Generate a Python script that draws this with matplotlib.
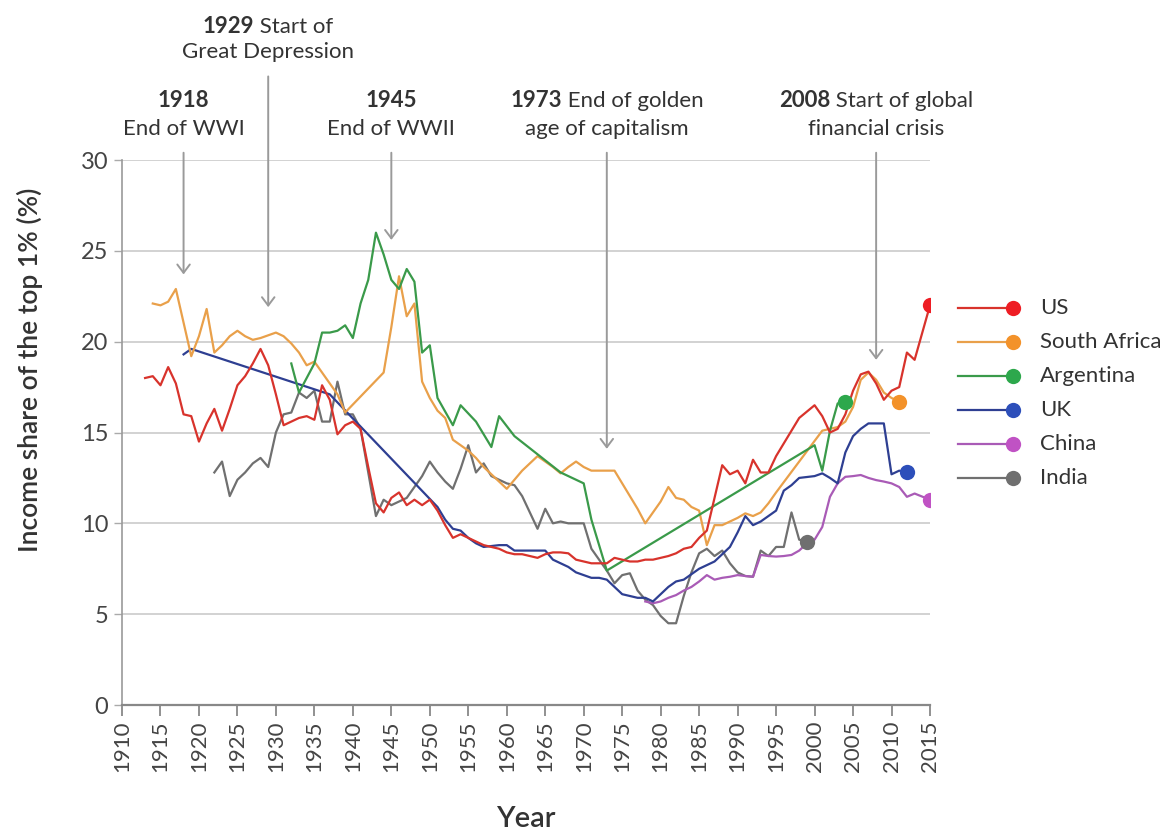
import matplotlib
matplotlib.use('Agg')
import matplotlib.pyplot as plt
from matplotlib.lines import Line2D
from matplotlib.transforms import offset_copy

plt.rcParams['font.family'] = ['Lato', 'DejaVu Sans']

# top 1% income share
us_years = [1913, 1914, 1915, 1916, 1917, 1918, 1919, 1920, 1921, 1922, 1923, 1924, 1925, 1926, 1927,
            1928, 1929, 1930, 1931, 1932, 1933, 1934, 1935, 1936, 1937, 1938, 1939, 1940, 1941, 1942,
            1943, 1944, 1945, 1946, 1947, 1948, 1949, 1950, 1951, 1952, 1953, 1954, 1955, 1956, 1957,
            1958, 1959, 1960, 1961, 1962, 1963, 1964, 1965, 1966, 1967, 1968, 1969, 1970, 1971, 1972,
            1973, 1974, 1975, 1976, 1977, 1978, 1979, 1980, 1981, 1982, 1983, 1984, 1985, 1986, 1988,
            1989, 1990, 1991, 1992, 1993, 1994, 1995, 1996, 1997, 1998, 2000, 2001, 2002, 2003, 2004,
            2005, 2006, 2007, 2008, 2009, 2010, 2011, 2012, 2013, 2015]
us_share = [18.0, 18.1, 17.6, 18.6, 17.7, 16.0, 15.9, 14.5, 15.5, 16.3, 15.1, 16.3, 17.6, 18.1, 18.8,
            19.6, 18.7, 17.1, 15.4, 15.6, 15.8, 15.9, 15.7, 17.6, 16.8, 14.9, 15.4, 15.6, 15.2, 13.1,
            11.1, 10.6, 11.4, 11.7, 11.0, 11.3, 11.0, 11.3, 10.7, 9.9, 9.2, 9.4, 9.2, 9.0, 8.8,
            8.7, 8.6, 8.4, 8.3, 8.3, 8.2, 8.1, 8.3, 8.4, 8.4, 8.35, 8.0, 7.9, 7.8, 7.8,
            7.8, 8.1, 8.0, 7.9, 7.9, 8.0, 8.0, 8.1, 8.2, 8.35, 8.6, 8.7, 9.2, 9.6, 13.2,
            12.7, 12.9, 12.2, 13.5, 12.8, 12.8, 13.7, 14.4, 15.1, 15.8, 16.5, 15.9, 15.0, 15.2, 16.0,
            17.3, 18.2, 18.35, 17.7, 16.8, 17.3, 17.5, 19.4, 19.0, 22.0]

sa_years = [1914, 1915, 1916, 1917, 1919, 1920, 1921, 1922, 1923, 1924, 1925, 1926, 1927, 1928, 1930,
            1931, 1932, 1933, 1934, 1935, 1936, 1937, 1938, 1939, 1944, 1945, 1946, 1947, 1948, 1949,
            1950, 1951, 1952, 1953, 1954, 1955, 1956, 1957, 1958, 1959, 1960, 1961, 1962, 1963, 1964,
            1965, 1966, 1967, 1968, 1969, 1970, 1971, 1972, 1973, 1974, 1975, 1976, 1977, 1978, 1979,
            1980, 1981, 1982, 1983, 1984, 1985, 1986, 1987, 1988, 1989, 1990, 1991, 1992, 1993, 1994,
            1995, 2001, 2002, 2003, 2004, 2005, 2006, 2007, 2008, 2009, 2010, 2011]
sa_share = [22.1, 22.0, 22.2, 22.9, 19.2, 20.3, 21.8, 19.4, 19.8, 20.3, 20.6, 20.3, 20.1, 20.2, 20.5,
            20.3, 19.9, 19.4, 18.7, 18.9, 18.3, 17.7, 17.1, 16.1, 18.3, 20.8, 23.6, 21.4, 22.1, 17.8,
            16.9, 16.2, 15.8, 14.6, 14.3, 14.0, 13.6, 13.1, 12.7, 12.3, 11.9, 12.4, 12.9, 13.3, 13.7,
            13.4, 13.1, 12.75, 13.1, 13.4, 13.1, 12.9, 12.9, 12.9, 12.9, 12.2, 11.5, 10.8, 10.0, 10.6,
            11.2, 12.0, 11.4, 11.3, 10.9, 10.7, 8.8, 9.9, 9.9, 10.1, 10.3, 10.55, 10.4, 10.6, 11.1,
            11.7, 15.1, 15.2, 15.3, 15.6, 16.4, 17.9, 18.3, 17.9, 17.2, 16.9, 16.7]

ar_years = [1932, 1933, 1934, 1935, 1936, 1937, 1938, 1939, 1940, 1941, 1942, 1943, 1944, 1945, 1946,
            1947, 1948, 1949, 1950, 1951, 1953, 1954, 1956, 1958, 1959, 1961, 1964, 1967, 1970, 1971,
            1973, 2000, 2001, 2002, 2003, 2004]
ar_share = [18.8, 17.2, 18.0, 18.8, 20.5, 20.5, 20.6, 20.9, 20.2, 22.1, 23.4, 26.0, 24.8, 23.4, 22.9,
            24.0, 23.3, 19.4, 19.8, 16.9, 15.4, 16.5, 15.6, 14.2, 15.9, 14.8, 13.8, 12.8, 12.2, 10.2,
            7.4, 14.3, 12.9, 15.1, 16.6, 16.7]

uk_years = [1918, 1919, 1937, 1951, 1952, 1953, 1954, 1955, 1956, 1957, 1958, 1959, 1960, 1961, 1962,
            1963, 1964, 1965, 1966, 1967, 1968, 1969, 1970, 1971, 1972, 1973, 1974, 1975, 1976, 1977,
            1978, 1979, 1980, 1981, 1982, 1983, 1984, 1985, 1986, 1987, 1988, 1989, 1990, 1991, 1992,
            1993, 1994, 1995, 1996, 1997, 1998, 1999, 2000, 2001, 2002, 2003, 2004, 2005, 2006, 2007,
            2008, 2009, 2010, 2011, 2012]
uk_share = [19.3, 19.6, 17.1, 10.9, 10.2, 9.7, 9.6, 9.2, 8.9, 8.7, 8.75, 8.8, 8.8, 8.5, 8.5,
            8.5, 8.5, 8.5, 8.0, 7.8, 7.6, 7.3, 7.15, 7.0, 7.0, 6.9, 6.5, 6.1, 6.0, 5.9,
            5.9, 5.7, 6.1, 6.5, 6.8, 6.9, 7.2, 7.5, 7.7, 7.9, 8.3, 8.7, 9.5, 10.4, 9.9,
            10.1, 10.4, 10.7, 11.8, 12.1, 12.5, 12.55, 12.6, 12.75, 12.5, 12.2, 13.9, 14.8, 15.2, 15.5,
            15.5, 15.5, 12.7, 12.9, 12.8]

cn_years = [1978, 1979, 1980, 1981, 1982, 1983, 1984, 1985, 1986, 1987, 1988, 1989, 1990, 1991, 1992,
            1993, 1994, 1995, 1996, 1997, 1998, 1999, 2000, 2001, 2002, 2003, 2004, 2005, 2006, 2007,
            2008, 2009, 2010, 2011, 2012, 2013, 2015]
cn_share = [5.7, 5.6, 5.7, 5.9, 6.05, 6.3, 6.5, 6.8, 7.15, 6.9, 7.0, 7.06, 7.15, 7.1, 7.06,
            8.26, 8.2, 8.17, 8.2, 8.26, 8.5, 8.9, 9.1, 9.8, 11.46, 12.2, 12.56, 12.6, 12.66, 12.5,
            12.38, 12.3, 12.2, 12.0, 11.46, 11.64, 11.3]

in_years = [1922, 1923, 1924, 1925, 1926, 1927, 1928, 1929, 1930, 1931, 1932, 1933, 1934, 1935, 1936,
            1937, 1938, 1939, 1940, 1941, 1943, 1944, 1945, 1946, 1947, 1948, 1949, 1950, 1951, 1952,
            1953, 1954, 1955, 1956, 1957, 1958, 1959, 1960, 1961, 1962, 1963, 1964, 1965, 1966, 1967,
            1968, 1969, 1970, 1971, 1972, 1973, 1974, 1975, 1976, 1977, 1978, 1979, 1980, 1981, 1982,
            1983, 1984, 1985, 1986, 1987, 1988, 1989, 1990, 1991, 1992, 1993, 1994, 1995, 1996, 1997,
            1998, 1999]
in_share = [12.8, 13.4, 11.5, 12.4, 12.8, 13.3, 13.6, 13.1, 15.0, 16.0, 16.1, 17.2, 16.9, 17.3, 15.6,
            15.6, 17.8, 16.0, 16.0, 15.2, 10.4, 11.3, 11.0, 11.2, 11.4, 12.0, 12.6, 13.4, 12.8, 12.3,
            11.9, 13.0, 14.3, 12.8, 13.3, 12.6, 12.4, 12.2, 12.1, 11.5, 10.6, 9.7, 10.8, 10.0, 10.1,
            10.0, 10.0, 10.0, 8.6, 8.0, 7.4, 6.7, 7.15, 7.25, 6.3, 5.8, 5.5, 4.9, 4.5, 4.5,
            6.0, 7.3, 8.35, 8.6, 8.2, 8.5, 7.8, 7.3, 7.1, 7.06, 8.5, 8.2, 8.7, 8.7, 10.6,
            9.1, 9.0]

countries = ['US', 'South Africa', 'Argentina', 'UK', 'China', 'India']
line_colors = ['#d8332c', '#e9a04a', '#3a9a4a', '#2e3f92', '#a95bb6', '#707070']
dot_colors = ['#ee1d24', '#f3922a', '#2da84c', '#2d4fba', '#c052c4', '#6f6f6f']

event_years = [1918, 1929, 1945, 1973, 2008]
event_bold = ['1918', '1929', '1945', '1973', '2008']
event_line1 = ['', ' Start of', '', ' End of golden', ' Start of global']
event_line2 = ['End of WWI', 'Great Depression', 'End of WWII', 'age of capitalism', 'financial crisis']
arrow_top = [30.4, 34.6, 30.4, 30.4, 30.4]
arrow_tip = [23.7, 21.9, 25.6, 14.1, 19.0]
text_y1 = [32.9, 37.0, 32.9, 32.9, 32.9]
text_y2 = [31.4, 35.6, 31.4, 31.4, 31.4]

W, H = 1168, 832
fig = plt.figure(figsize=(W / 100, H / 100), dpi=100)
ax = fig.add_axes([122 / W, 1 - 705 / H, 808 / W, 545 / H])

series = [(us_years, us_share), (sa_years, sa_share), (ar_years, ar_share),
          (uk_years, uk_share), (cn_years, cn_share), (in_years, in_share)]
order = [5, 4, 3, 1, 2, 0]
for i in order:
    yrs, vals = series[i]
    ax.plot(yrs, vals, color=line_colors[i], lw=1.6, zorder=3 + order.index(i) * 0.1)
    ax.plot(yrs[-1], vals[-1], 'o', color=dot_colors[i], ms=11, mec='none', zorder=5)

ax.set_xlim(1910, 2015)
ax.set_ylim(0, 30)
ax.set_xticks(range(1910, 2016, 5))
ax.set_yticks(range(0, 31, 5))
ax.tick_params(axis='x', length=8, width=1.3, color='#888888', pad=3, labelsize=16,
               labelcolor='#444444', labelrotation=90)
ax.tick_params(axis='y', length=6, width=1.0, color='#aaaaaa', pad=4, labelsize=17,
               labelcolor='#444444')
ax.yaxis.grid(True, color='#cfcfcf', lw=1.3)
ax.set_axisbelow(True)
for s in ['top', 'right']:
    ax.spines[s].set_visible(False)
ax.spines['left'].set_color('#9a9a9a')
ax.spines['left'].set_linewidth(1.2)
ax.spines['bottom'].set_color('#888888')
ax.spines['bottom'].set_linewidth(1.6)

ax.set_ylabel('Income share of the top 1% (%)', fontsize=19, weight='semibold', color='#333333')
ax.yaxis.set_label_coords(-0.098, 0.615)
ax.set_xlabel('Year', fontsize=21, weight='semibold', color='#333333', va='top')
ax.xaxis.set_label_coords(0.5, -0.185)

renderer = fig.canvas.get_renderer()


def centred_line(x, y, parts):
    texts = [ax.text(x, y, s, fontsize=16, weight=w, color='#333333', va='baseline', ha='left',
                     clip_on=False) for s, w in parts if s]
    widths = [t.get_window_extent(renderer).width for t in texts]
    off = -sum(widths) / 2
    for t, w in zip(texts, widths):
        t.set_transform(offset_copy(ax.transData, fig=fig, x=off, y=0, units='dots'))
        off += w


for k, yr in enumerate(event_years):
    ax.annotate('', xy=(yr, arrow_tip[k]), xytext=(yr, arrow_top[k]), annotation_clip=False,
                arrowprops=dict(arrowstyle='->,head_length=0.6,head_width=0.45', color='#9a9a9a',
                                lw=1.4, shrinkA=0, shrinkB=0, mutation_scale=10), zorder=2)
    centred_line(yr, text_y1[k], [(event_bold[k], 'bold'), (event_line1[k], 'normal')])
    centred_line(yr, text_y2[k], [(event_line2[k], 'normal')])

# legend, line with the dot at its right end
leg_y = [308, 342, 376, 410, 444, 478]
for i, name in enumerate(countries):
    yf = 1 - leg_y[i] / H
    fig.add_artist(Line2D([958 / W, 1010 / W], [yf, yf], color=line_colors[i], lw=1.6,
                          transform=fig.transFigure))
    fig.add_artist(Line2D([1013 / W], [yf], marker='o', ms=11, color=dot_colors[i], mec='none',
                          transform=fig.transFigure))
    fig.text(1040 / W, yf, name, fontsize=16, color='#333333', va='center')

fig.savefig('out.png', dpi=100)
